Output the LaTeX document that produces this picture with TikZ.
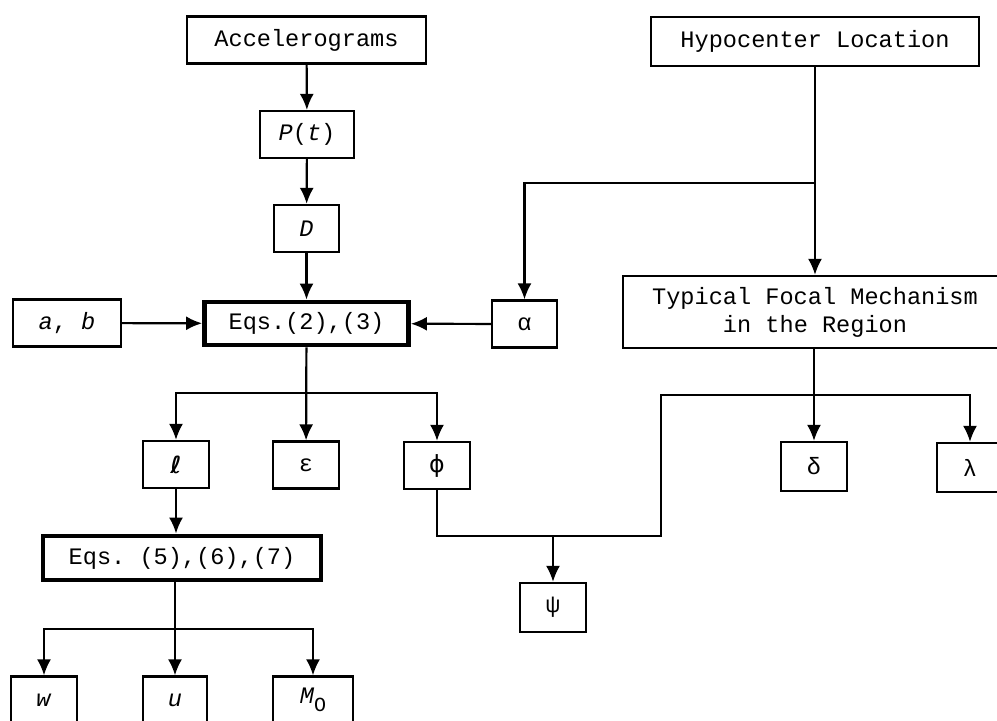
\documentclass[tikz,border=0pt]{standalone}
\usepackage{fontspec}
\setmonofont{Liberation Mono}
\newfontfamily\symfont{DejaVu Sans}
\usetikzlibrary{arrows.meta}

\begin{document}
\begin{tikzpicture}[x=0.5pt,y=-0.5pt,
    box/.style={draw, line width=1.1pt, inner sep=0pt, minimum height=23.5pt,
        font=\ttfamily\fontsize{11.8}{14}\selectfont},
    eqbox/.style={box, line width=2.4pt, minimum height=21.5pt},
    arr/.style={-{Latex[length=8pt,width=7pt]}, line width=1.1pt},
    wire/.style={line width=1.1pt}]
    \useasboundingbox (0,0) rectangle (997,720);

    % left column
    \node[box, minimum width=119.5pt] (acc) at (306.5,40) {Accelerograms};
    \node[box, minimum width=47pt] (pt) at (307,134.5) {\textit{P}(\textit{t})};
    \node[box, minimum width=32.5pt] (D) at (306.5,228.5) {\textit{D}};
    \node[eqbox, minimum width=102pt] (eqa) at (306.5,323.5) {Eqs.(2),(3)};
    \node[box, minimum width=54pt] (ab) at (67,323) {\textit{a}, \textit{b}};
    \node[box, minimum width=32.5pt] (alpha) at (524.5,324) {α};

    % right column
    \node[box, minimum width=164pt, minimum height=24.5pt] (hypo) at (815,41.5) {Hypocenter Location};
    \node[box, minimum width=192pt, minimum height=36pt, align=center] (typ) at (815,312)
        {Typical Focal Mechanism\\in the Region};

    % second row
    \node[box, minimum width=33pt] (ell) at (176,464.5) {{\symfont\bfseries\itshape ℓ}};
    \node[box, minimum width=33pt] (eps) at (306,465) {ε};
    \node[box, minimum width=33pt] (phi) at (437,465.5) {{\symfont ϕ}};
    \node[box, minimum width=33pt, minimum height=24.5pt] (delta) at (814,466.5) {δ};
    \node[box, minimum width=33pt, minimum height=24.5pt] (lambda) at (970,467.5) {λ};

    % lower part
    \node[eqbox, minimum width=139pt, minimum height=22pt] (eqb) at (182,558) {Eqs. (5),(6),(7)};
    \node[box, minimum width=33pt, minimum height=24.5pt] (psi) at (553,607.5) {ψ};
    \node[box, minimum width=33pt] (w) at (44,700) {\textit{w}};
    \node[box, minimum width=32pt] (u) at (175,700) {\textit{u}};
    \node[box, minimum width=40pt] (M) at (313,700) {\textit{M}\raisebox{-0.6ex}{\fontsize{10}{12}\selectfont O}};

    \coordinate (hsplit) at (815,183);
    \coordinate (esplit) at (306,393);
    \coordinate (tsplit) at (814,395);
    \coordinate (jog) at (661,536);
    \coordinate (msplit) at (175,629);

    % connectors
    \draw[arr] (acc) -- (pt);
    \draw[arr] (pt) -- (D);
    \draw[arr] (D) -- (eqa);
    \draw[arr] (ab) -- (eqa);
    \draw[arr] (alpha) -- (eqa);
    \draw[arr] (hypo) -- (typ);
    \draw[arr] (hsplit) -| (alpha);
    \draw[arr] (eqa) -- (eps);
    \draw[arr] (esplit) -| (ell);
    \draw[arr] (esplit) -| (phi);
    \draw[arr] (ell) -- (ell |- eqb.north);
    \draw[arr] (eqb.south -| u) -- (u);
    \draw[arr] (msplit) -| (w);
    \draw[arr] (msplit) -| (M);
    \draw[arr] (typ.south -| delta) -- (delta);
    \draw[arr] (tsplit) -| (lambda);
    \draw[wire] (phi) |- (jog) |- (tsplit);
    \draw[arr] (psi |- jog) -- (psi);
\end{tikzpicture}
\end{document}
